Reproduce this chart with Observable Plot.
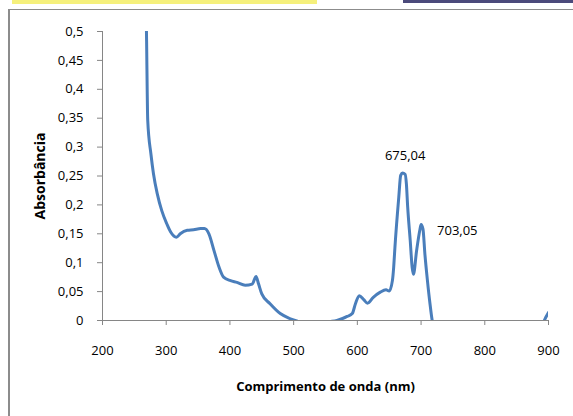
<!DOCTYPE html>
<html><head><meta charset="utf-8">
<script src="https://cdn.jsdelivr.net/npm/d3@7"></script>
<script src="https://cdn.jsdelivr.net/npm/@observablehq/plot@0.6"></script>
<style>
body{margin:0;background:#fff;}
#wrap{position:relative;width:573px;height:416px;overflow:hidden;font-family:"Open Sans",sans-serif;background:#fff;}
.bar1{position:absolute;left:12px;top:0;width:305px;height:4px;background:#f5f07c;}
.bar2{position:absolute;left:403px;top:0;width:170px;height:3px;background:#4b4a7b;}
.frameTop{position:absolute;left:8px;top:9px;right:0;height:1px;background:#8c8c8c;}
.frameLeft{position:absolute;left:8px;top:9px;bottom:0;width:2px;background:#8c8c8c;}
#chart{position:absolute;left:0;top:0;}
</style></head>
<body>
<div id="wrap">
  <div class="bar1"></div><div class="bar2"></div>
  <div class="frameTop"></div><div class="frameLeft"></div>
  <div id="chart"></div>
</div>
<script>
const wavelength = [267, 269, 271, 276, 280, 286, 293, 301, 307, 316, 322, 333, 343, 354, 360, 367, 375, 383, 390, 401, 411, 424, 435, 441, 445, 450, 463, 479, 495, 510, 525, 540, 552, 568, 584, 592, 597, 603, 610, 616, 625, 636, 645, 650, 655, 657, 659, 665, 668, 671, 675, 677, 679, 683, 686, 688, 693, 698, 700, 703, 706, 710, 714, 718, 725, 750, 800, 850, 888, 892, 896, 900];
const absorbance = [0.62, 0.5, 0.346, 0.288, 0.254, 0.219, 0.19, 0.167, 0.153, 0.144, 0.15, 0.156, 0.157, 0.159, 0.159, 0.15, 0.121, 0.092, 0.075, 0.069, 0.066, 0.061, 0.063, 0.076, 0.063, 0.046, 0.029, 0.012, 0.003, -0.003, -0.01, -0.008, -0.003, 0, 0.007, 0.012, 0.029, 0.043, 0.036, 0.03, 0.04, 0.049, 0.053, 0.051, 0.069, 0.092, 0.127, 0.213, 0.251, 0.255, 0.253, 0.236, 0.196, 0.138, 0.092, 0.08, 0.121, 0.156, 0.166, 0.158, 0.115, 0.069, 0.029, -0.003, -0.02, -0.03, -0.03, -0.025, -0.01, -0.003, 0.006, 0.014];
const peakWavelength = [675.04, 703.05];
const peakAbsorbance = [0.255, 0.165];
const xTicks = [200, 300, 400, 500, 600, 700, 800, 900];
const yTicks = [0, 0.05, 0.1, 0.15, 0.2, 0.25, 0.3, 0.35, 0.4, 0.45, 0.5];
const xTitle = "Comprimento de onda (nm)";
const yTitle = "Absorbância";

const data = wavelength.map((w, i) => ({wl: w, abs: absorbance[i]}));
const peaks = peakWavelength.map((w, i) => ({wl: w, abs: peakAbsorbance[i], label: w.toFixed(2).replace(".", ",")}));
const comma = d => String(+d.toFixed(2)).replace(".", ",");
const axisColor = "#868686";

const plot = Plot.plot({
  width: 573, height: 416,
  marginLeft: 102, marginRight: 25, marginTop: 31, marginBottom: 96,
  style: {fontFamily: "'Open Sans', sans-serif", fontSize: "13px", color: "#000", background: "transparent"},
  x: {domain: [200, 900]},
  y: {domain: [0, 0.5]},
  marks: [
    Plot.ruleY([0], {stroke: axisColor}),
    Plot.ruleX([200], {stroke: axisColor}),
    Plot.axisY({ticks: yTicks, tickFormat: comma, tickSize: 5, tickPadding: 14, stroke: axisColor, label: null}),
    Plot.axisX({ticks: xTicks, tickSize: 5, tickPadding: 20, stroke: axisColor, label: null}),
    Plot.line(data, {x: "wl", y: "abs", stroke: "#4a7ebb", strokeWidth: 3, curve: "monotone-x", clip: true}),
    Plot.text([peaks[0]], {x: "wl", y: "abs", text: "label", dy: -17, fill: "#000", fontSize: 13}),
    Plot.text([peaks[1]], {x: "wl", y: "abs", text: "label", dx: 14, dy: 6, textAnchor: "start", fill: "#000", fontSize: 13}),
    Plot.text([xTitle], {frameAnchor: "bottom", dy: 70, textAnchor: "middle", fontWeight: "bold", fontSize: 13, fill: "#000"}),
    Plot.text([yTitle], {frameAnchor: "left", dx: -62, rotate: -90, textAnchor: "middle", fontWeight: "bold", fontSize: 14, fill: "#000", letterSpacing: "2.6px"})
  ]
});
document.getElementById("chart").appendChild(plot);
</script>
</body></html>
